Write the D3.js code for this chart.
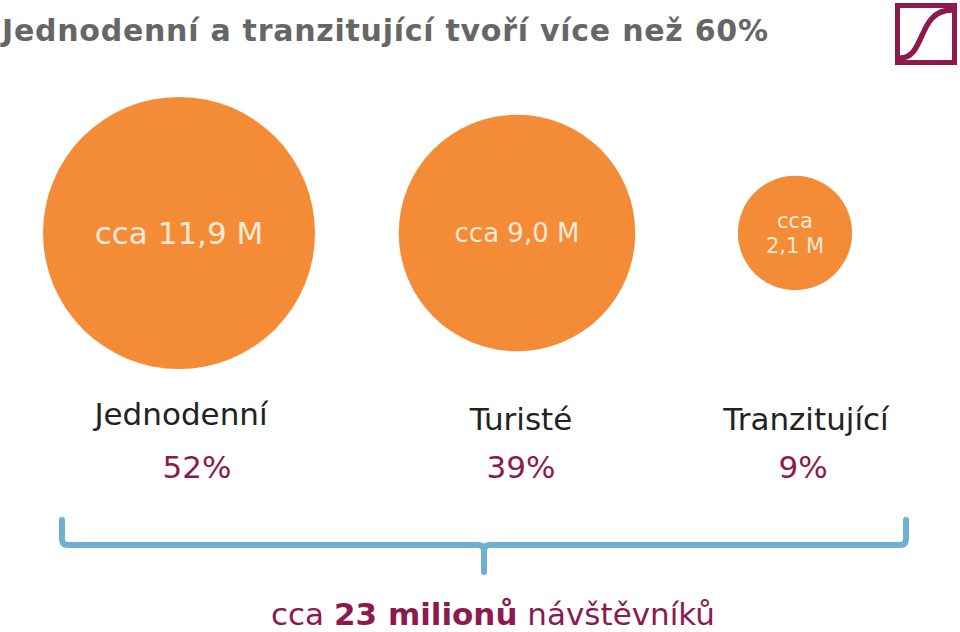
<!DOCTYPE html>
<html><head><meta charset="utf-8">
<script src="https://cdn.jsdelivr.net/npm/d3@7"></script>
<style>body{margin:0;background:#fff}svg{display:block}</style>
</head><body>
<svg id="c" width="960" height="632"></svg>
<script>
const categories = ["Jednodenní", "Turisté", "Tranzitující"];
const visitorsMillions = [11.9, 9.0, 2.1];
const valueLabels = [["cca 11,9 M"], ["cca 9,0 M"], ["cca", "2,1 M"]];
const shares = ["52%", "39%", "9%"];
const title = "Jednodenní a tranzitující tvoří více než 60%";

(function () {
const svg = d3.select("#c");
const font = "Verdana, 'DejaVu Sans', sans-serif";
const orange = "#f38b37", maroon = "#8c1a4f", blue = "#6eb0d2";

svg.append("text").attr("x", 2).attr("y", 41).attr("font-family", font)
  .attr("font-weight", "bold").attr("font-size", 30).attr("fill", "#666")
  .attr("textLength", 766).attr("lengthAdjust", "spacing")
  .text(title);

// logo
const logo = svg.append("g");
logo.append("rect").attr("x", 897.5).attr("y", 5.5).attr("width", 57).attr("height", 57)
  .attr("fill", "none").attr("stroke", maroon).attr("stroke-width", 5);
logo.append("path").attr("d", "M900,58 C926,58 917,10 952,10")
  .attr("fill", "none").attr("stroke", maroon).attr("stroke-width", 5.5);

const xpos = {"Jednodenní": 179, "Turisté": 517, "Tranzitující": 795};
const r = d3.scaleSqrt().domain([0, 11.9]).range([0, 136]);
const cy = 233;

const g = svg.selectAll("g.c").data(categories).join("g").attr("class", "c")
  .attr("transform", d => `translate(${xpos[d]},0)`);
g.append("circle").attr("cy", cy).attr("r", (d, i) => r(visitorsMillions[i])).attr("fill", orange);

const inSizes = [31, 26, 21];
g.each(function(d, i) {
  const lines = valueLabels[i];
  const fs = inSizes[i];
  const lh = fs * 1.2;
  const t = d3.select(this).append("text").attr("text-anchor", "middle")
    .attr("font-family", font).attr("font-size", fs).attr("fill", "#fde9d6");
  lines.forEach((l, k) => {
    t.append("tspan").attr("x", 0)
      .attr("y", cy + fs * 0.36 + (k - (lines.length - 1) / 2) * lh).text(l);
  });
});

const catX = [181, 521, 806];
const pctX = [197, 521, 803];
svg.selectAll("text.cat").data(categories).join("text").attr("class", "cat")
  .attr("x", (d, i) => catX[i]).attr("y", (d, i) => i === 0 ? 425 : 430)
  .attr("text-anchor", "middle").attr("font-family", font).attr("font-size", 31)
  .attr("fill", "#222").text(d => d);
svg.selectAll("text.pct").data(shares).join("text").attr("class", "pct")
  .attr("x", (d, i) => pctX[i]).attr("y", 478)
  .attr("text-anchor", "middle").attr("font-family", font).attr("font-size", 31)
  .attr("fill", maroon).text(d => d);

// bracket
const bx0 = 62, bx1 = 906, bm = 484, bTop = 520, mid = 545, bot = 572, rr = 6;
svg.append("path").attr("d",
  `M${bx0},${bTop} V${mid - rr} Q${bx0},${mid} ${bx0 + rr},${mid} H${bm - rr} Q${bm},${mid} ${bm},${mid + rr} V${bot}
   M${bm},${mid + rr} Q${bm},${mid} ${bm + rr},${mid} H${bx1 - rr} Q${bx1},${mid} ${bx1},${mid - rr} V${bTop}`)
  .attr("fill", "none").attr("stroke", blue).attr("stroke-width", 6).attr("stroke-linecap", "round");

const tot = svg.append("text").attr("x", 493).attr("y", 625).attr("text-anchor", "middle")
  .attr("font-family", font).attr("font-size", 31).attr("fill", maroon);
tot.append("tspan").text("cca ");
tot.append("tspan").attr("font-weight", "bold").text("23 milionů");
tot.append("tspan").text(" návštěvníků");
})();
</script>
</body></html>
